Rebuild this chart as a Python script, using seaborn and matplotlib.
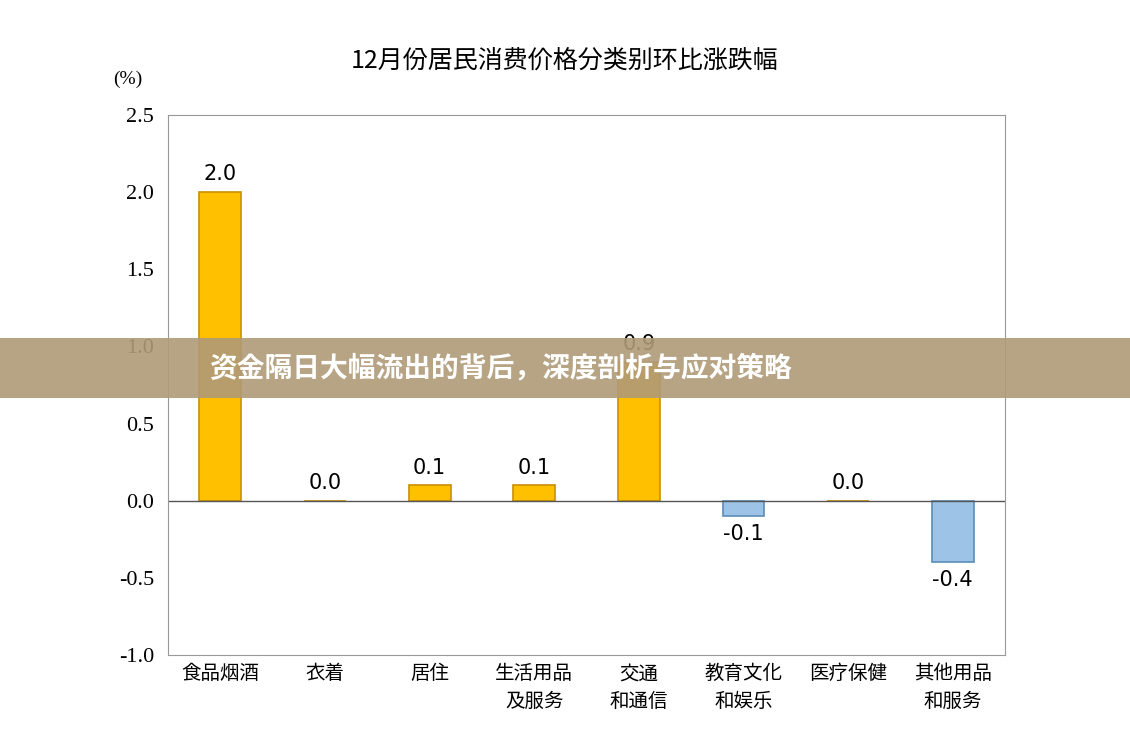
import matplotlib
matplotlib.use("Agg")
import matplotlib.pyplot as plt
import seaborn as sns
import pandas as pd

categories = ["食品烟酒", "衣着", "居住", "生活用品\n及服务", "交通\n和通信", "教育文化\n和娱乐", "医疗保健", "其他用品\n和服务"]
values = [2.0, 0.0, 0.1, 0.1, 0.9, -0.1, 0.0, -0.4]
title = "12月份居民消费价格分类别环比涨跌幅"
banner = "资金隔日大幅流出的背后，深度剖析与应对策略"

df = pd.DataFrame({"cat": categories, "val": values})
colors = ["#FFC000" if v >= 0 else "#9DC3E6" for v in values]
edges = ["#C89000" if v >= 0 else "#5B8DB8" for v in values]

cjk = ["Noto Sans CJK SC", "Noto Sans CJK JP", "Noto Sans CJK TC", "Noto Sans CJK KR", "DejaVu Sans"]
fig = plt.figure(figsize=(11.3, 7.36), dpi=100)
ax = fig.add_axes([0.1487, 0.110, 0.7407, 0.7337])
sns.barplot(data=df, x="cat", y="val", hue="cat", palette=colors, legend=False,
            width=0.4, ax=ax, saturation=1)
for p, ec in zip(ax.patches, edges):
    p.set_edgecolor(ec)
    p.set_linewidth(1.2)
for i, v in enumerate(values):
    off = 0.05 if v >= 0 else -0.05
    ax.text(i, v + off, f"{v:.1f}", ha="center", va="bottom" if v >= 0 else "top",
            fontsize=15, family="DejaVu Sans")
ax.axhline(0, color="#555555", lw=1)
ax.set_ylim(-1.0, 2.5)
ax.set_yticks([-1.0, -0.5, 0.0, 0.5, 1.0, 1.5, 2.0, 2.5])
ax.set_yticklabels([f"{t:.1f}" for t in ax.get_yticks()], family="Liberation Serif", fontsize=16)
ax.set_xticks(range(len(categories)))
ax.set_xticklabels(categories, fontsize=14, linespacing=1.4)
for t in ax.get_xticklabels():
    t.set_fontfamily(cjk)
ax.tick_params(axis="x", length=0, pad=6)
ax.tick_params(axis="y", length=0, pad=10)
ax.set_xlabel("")
ax.set_ylabel("")
for s in ax.spines.values():
    s.set_color("#999999")
fig.text(0.5, 0.918, title, ha="center", va="center", family=cjk, fontsize=18)
fig.text(0.113, 0.892, "(%)", ha="center", va="center", family="Liberation Serif", fontsize=14)

# overlay banner
fig.patches.append(plt.Rectangle((0, 0.459), 1, 0.082, transform=fig.transFigure,
                                 facecolor="#B09A78", alpha=0.9, zorder=10))
fig.text(0.185, 0.5, banner, ha="left", va="center", family=cjk, fontsize=20,
         fontweight="bold", color="white", zorder=11)

fig.savefig("out.png", dpi=100)
